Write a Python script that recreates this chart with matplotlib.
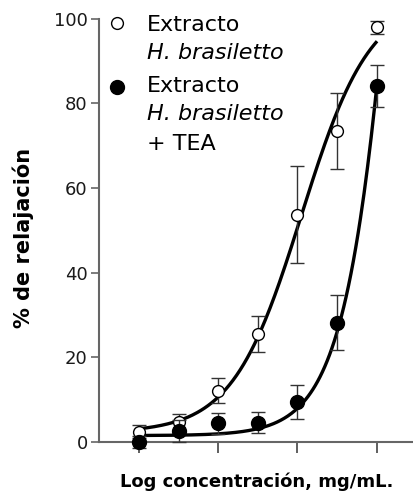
import numpy as np
import matplotlib.pyplot as plt

plt.rcParams['font.family'] = ['DejaVu Sans']

# log concentration (mg/mL)
log_conc = [-3.0, -2.5, -2.0, -1.5, -1.0, -0.5, 0.0]

# Extracto H. brasiletto
ext_mean = [2.4, 4.7, 12.1, 25.5, 53.7, 73.4, 98.0]
ext_err = [1.5, 2.0, 3.0, 4.3, 11.5, 9.0, 1.5]

# Extracto H. brasiletto + TEA
tea_mean = [0.0, 2.6, 4.4, 4.5, 9.4, 28.2, 84.2]
tea_err = [1.5, 2.5, 2.5, 2.5, 4.0, 6.5, 5.0]

# sigmoidal fit parameters: bottom, top, logEC50, hill slope
ext_fit = (2.2, 105.0, -0.95, 1.0)
tea_fit = (1.5, 400.0, 0.486, 1.2)


def hill(x, bottom, top, ec50, h):
    return bottom + (top - bottom) / (1 + 10 ** ((ec50 - x) * h))


fig = plt.figure(figsize=(4.14, 4.96), dpi=100)
ax = fig.add_axes([0.239, 0.109, 0.761, 0.853])

xs = np.linspace(-3.0, -0.01, 200)
ax.plot(xs, hill(xs, *ext_fit), color='black', lw=2.4, zorder=2, clip_on=False)
ax.plot(xs, hill(xs, *tea_fit), color='black', lw=2.4, zorder=2, clip_on=False)

ax.errorbar(log_conc, ext_mean, yerr=ext_err, fmt='o', mfc='white', mec='black',
            mew=1.0, ms=8.5, color='black', ecolor='#333333', elinewidth=1.0,
            capsize=5, capthick=1.0, zorder=3, clip_on=False)
ax.errorbar(log_conc, tea_mean, yerr=tea_err, fmt='o', mfc='black', mec='black',
            ms=10, color='black', ecolor='#333333', elinewidth=1.0,
            capsize=5, capthick=1.0, zorder=4, clip_on=False)

ax.set_xlim(-3.505, 0.47)
ax.set_ylim(0, 100)
ax.set_yticks([0, 20, 40, 60, 80, 100])
ax.set_xticks([-3, -2, -1, 0])
ax.set_xticklabels([])

for s in ['top', 'right']:
    ax.spines[s].set_visible(False)
for s in ['left', 'bottom']:
    ax.spines[s].set_color('#666666')
    ax.spines[s].set_linewidth(1.5)
ax.tick_params(axis='y', length=6, width=1.2, color='#666666', labelsize=13,
               pad=2, labelcolor='#1a1a1a')
ax.tick_params(axis='x', length=8, width=1.2, color='#444444')

# legend
ax.plot([-3.28], [99], 'o', mfc='white', mec='black', mew=1.0, ms=8.5, clip_on=False)
ax.plot([-3.28], [84], 'o', mfc='black', mec='black', ms=10, clip_on=False)
ax.text(-2.9, 97.2, 'Extracto', fontsize=16, va='baseline')
ax.text(-2.9, 90.5, 'H. brasiletto', fontsize=16, va='baseline', style='italic')
ax.text(-2.9, 82.8, 'Extracto', fontsize=16, va='baseline')
ax.text(-2.9, 76.1, 'H. brasiletto', fontsize=16, va='baseline', style='italic')
ax.text(-2.9, 69.0, '+ TEA', fontsize=16, va='baseline')

fig.text(0.056, 0.52, '% de relajación', rotation=90, fontsize=15,
         fontweight='bold', ha='center', va='center')
fig.text(0.62, 0.028, 'Log concentración, mg/mL.', fontsize=13,
         fontweight='bold', ha='center', va='center')

fig.savefig('out.png', dpi=100)
